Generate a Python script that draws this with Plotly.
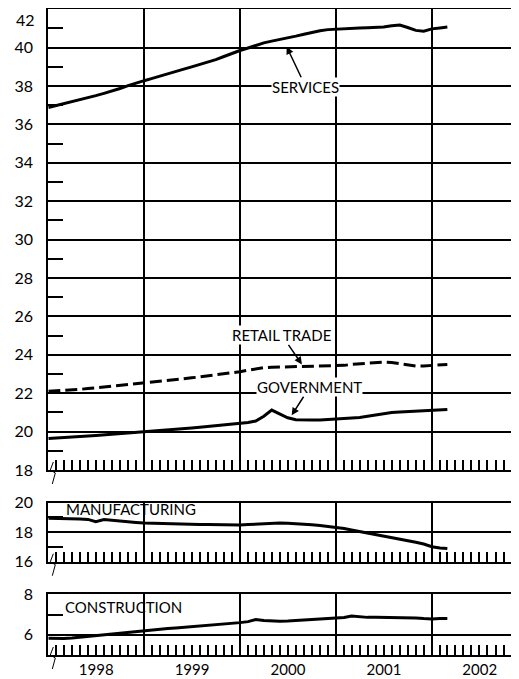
import plotly.graph_objects as go
import pandas as pd

# monthly, Jan 1998 - Mar 2002 (millions of workers)
months = pd.date_range("1998-01-01", periods=51, freq="MS")

services = [36.88, 36.98, 37.08, 37.17, 37.28, 37.38, 37.50, 37.62, 37.73, 37.87, 38.02, 38.16,
            38.28, 38.40, 38.52, 38.64, 38.76, 38.88, 39.00, 39.12, 39.24, 39.38, 39.54, 39.70,
            39.85, 39.98, 40.12, 40.25, 40.34, 40.42, 40.50, 40.60, 40.70, 40.80, 40.88, 40.94,
            40.97, 41.00, 41.02, 41.02, 41.04, 41.05, 41.08, 41.14, 41.18, 41.05, 40.90, 40.86,
            40.98, 41.03, 41.08]

retail = [22.10, 22.12, 22.14, 22.17, 22.20, 22.24, 22.28, 22.32, 22.37, 22.42, 22.46, 22.50,
          22.54, 22.58, 22.62, 22.67, 22.72, 22.76, 22.80, 22.85, 22.90, 22.96, 23.02, 23.07,
          23.12, 23.20, 23.28, 23.33, 23.35, 23.36, 23.37, 23.38, 23.38, 23.39, 23.40, 23.41,
          23.42, 23.45, 23.50, 23.54, 23.57, 23.60, 23.62, 23.60, 23.55, 23.47, 23.42, 23.42,
          23.44, 23.47, 23.50]

government = [19.64, 19.66, 19.68, 19.71, 19.74, 19.77, 19.80, 19.83, 19.87, 19.90, 19.94, 19.97,
              20.00, 20.03, 20.06, 20.09, 20.12, 20.15, 20.19, 20.23, 20.27, 20.31, 20.35, 20.39,
              20.42, 20.47, 20.55, 20.80, 21.12, 20.90, 20.72, 20.62, 20.60, 20.60, 20.61, 20.63,
              20.65, 20.67, 20.70, 20.74, 20.80, 20.88, 20.95, 21.00, 21.02, 21.04, 21.06, 21.08,
              21.10, 21.12, 21.15]

manufacturing = [18.95, 18.95, 18.94, 18.93, 18.90, 18.87, 18.71, 18.86, 18.80, 18.75, 18.70, 18.66,
                 18.62, 18.60, 18.58, 18.57, 18.56, 18.55, 18.54, 18.53, 18.52, 18.51, 18.50, 18.50,
                 18.49, 18.52, 18.55, 18.58, 18.60, 18.62, 18.60, 18.58, 18.55, 18.50, 18.45, 18.40,
                 18.33, 18.25, 18.15, 18.05, 17.95, 17.85, 17.75, 17.65, 17.55, 17.45, 17.32, 17.20,
                 17.02, 16.93, 16.90]

construction = [5.83, 5.82, 5.82, 5.84, 5.88, 5.92, 5.96, 6.00, 6.04, 6.08, 6.14, 6.18,
                6.22, 6.25, 6.28, 6.31, 6.34, 6.37, 6.40, 6.43, 6.46, 6.50, 6.54, 6.58,
                6.60, 6.65, 6.75, 6.70, 6.67, 6.67, 6.68, 6.70, 6.72, 6.74, 6.76, 6.78,
                6.80, 6.85, 6.93, 6.88, 6.86, 6.86, 6.86, 6.85, 6.85, 6.84, 6.83, 6.80,
                6.78, 6.80, 6.80]

midyears = ["1998-07-01", "1999-07-01", "2000-07-01", "2001-07-01", "2002-07-01"]
xrange_ = ["1998-01-01", "2002-11-29"]

FONT = "Lato"
INK = "black"

fig = go.Figure()
solid = dict(color=INK, width=3)
fig.add_trace(go.Scatter(x=months, y=services, mode="lines", line=solid, xaxis="x", yaxis="y"))
fig.add_trace(go.Scatter(x=months, y=retail, mode="lines",
                         line=dict(color=INK, width=3, dash="12px,5px"), xaxis="x", yaxis="y"))
fig.add_trace(go.Scatter(x=months, y=government, mode="lines", line=solid, xaxis="x", yaxis="y"))
fig.add_trace(go.Scatter(x=months, y=manufacturing, mode="lines", line=solid, xaxis="x2", yaxis="y2"))
fig.add_trace(go.Scatter(x=months, y=construction, mode="lines", line=solid, xaxis="x3", yaxis="y3"))

# panels: (y-domain, y-range, labelled ticks, odd ticks)
panels = [
    ([0.3115, 0.9981], [18, 42], list(range(18, 41, 2)), list(range(19, 42, 2))),
    ([0.1748, 0.2627], [16, 20], [16, 18, 20], [17, 19]),
    ([0.0358, 0.1262], [5, 8], [6, 8], [7]),
]

tickfont = dict(family=FONT, size=16, color=INK)
layout = {}
for i, (dom, rng, evens, odds) in enumerate(panels):
    n = i + 1
    s = "" if n == 1 else str(n)
    bottom = n == 3
    layout["xaxis" + s] = dict(
        domain=[0.0789, 1], anchor="y" + s, type="date", range=xrange_,
        tick0="1998-01-01", dtick="M12", tickformat="%Y", ticklabelmode="period",
        showgrid=True, gridcolor=INK, gridwidth=1.5,
        showline=True, linecolor=INK, linewidth=2, mirror=True,
        ticks="", showticklabels=bottom, ticklabelstandoff=0,
        tickfont=dict(family=FONT, size=15, color=INK),
        minor=dict(dtick="M1", ticks="inside", ticklen=10, tickwidth=1.5,
                   tickcolor=INK, showgrid=False),
        zeroline=False, automargin=False,
    )
    layout["yaxis" + s] = dict(
        domain=dom, anchor="x" + s, range=rng, tickvals=evens,
        showgrid=True, gridcolor=INK, gridwidth=1.5,
        showline=True, linecolor=INK, linewidth=2,
        ticks="", ticklabelstandoff=10,
        tickfont=tickfont,
        minor=dict(tickvals=odds, ticks="inside", ticklen=15, tickwidth=1.5,
                   tickcolor=INK, showgrid=False),
        zeroline=False, automargin=False,
    )
    # taller mid-year ticks
    layout["xaxis" + str(n + 3)] = dict(
        overlaying="x" + s, anchor="y" + s, type="date", range=xrange_,
        tickvals=midyears, ticks="inside", ticklen=27, tickwidth=1.5, tickcolor=INK,
        showticklabels=False, showgrid=False, showline=False, zeroline=False,
        automargin=False,
    )
    # short ticks on right edge
    layout["yaxis" + str(n + 3)] = dict(
        overlaying="y" + s, anchor="x" + s, side="right", range=rng,
        tickvals=odds, ticks="inside", ticklen=9, tickwidth=1.5, tickcolor=INK,
        showticklabels=False, showgrid=False, showline=False, zeroline=False,
        automargin=False,
    )

# year separators hanging below the bottom axis
layout["xaxis7"] = dict(
    overlaying="x3", anchor="y3", type="date", range=xrange_,
    tick0="1998-01-01", dtick="M12", ticks="outside", ticklen=18, tickwidth=1.5,
    tickcolor=INK, showticklabels=False, showgrid=False, showline=False,
    zeroline=False, automargin=False,
)

fig.update_layout(**layout)

# axis-break marks at the lower left of each panel
for s in ["", "2", "3"]:
    fig.add_shape(type="path", xref="x%s domain" % s, yref="y%s domain" % s,
                  xsizemode="pixel", ysizemode="pixel", xanchor=0, yanchor=0,
                  path="M 5,8 L 2,0 L 7,-3 L 4,-14", line=dict(color=INK, width=1))

# top label sits just under the frame line, so place it by hand
fig.add_annotation(x=0.0548, y=0.9985, xref="paper", yref="paper", text="42",
                   showarrow=False, xanchor="right", yanchor="top", borderpad=0,
                   font=tickfont)

lab = dict(family=FONT, size=15, color=INK)
arrow = dict(showarrow=True, arrowhead=2, arrowsize=1, arrowwidth=1.5, arrowcolor=INK,
             bgcolor="white", borderpad=0, font=lab)
fig.add_annotation(x="2000-06-27", y=40.05, xref="x", yref="y", text="SERVICES",
                   ax=19, ay=40, **arrow)
fig.add_annotation(x="2000-08-24", y=23.5, xref="x", yref="y", text="RETAIL TRADE",
                   ax=-20, ay=-29, **arrow)
fig.add_annotation(x="2000-07-16", y=20.85, xref="x", yref="y", text="GOVERNMENT",
                   ax=18, ay=-28, **arrow)
fig.add_annotation(x=0.1096, y=19.55, xref="paper", yref="y2", text="MANUFACTURING",
                   showarrow=False, xanchor="left", yanchor="middle", font=lab)
fig.add_annotation(x=0.1076, y=7.38, xref="paper", yref="y3", text="CONSTRUCTION",
                   showarrow=False, xanchor="left", yanchor="middle", font=lab)

# page body keeps an 8px margin, so the figure is 8px smaller than the window
fig.update_layout(
    width=511, height=671,
    margin=dict(l=0, r=0, t=0, b=0),
    paper_bgcolor="white", plot_bgcolor="white",
    showlegend=False,
)

fig.write_html("out.html")
